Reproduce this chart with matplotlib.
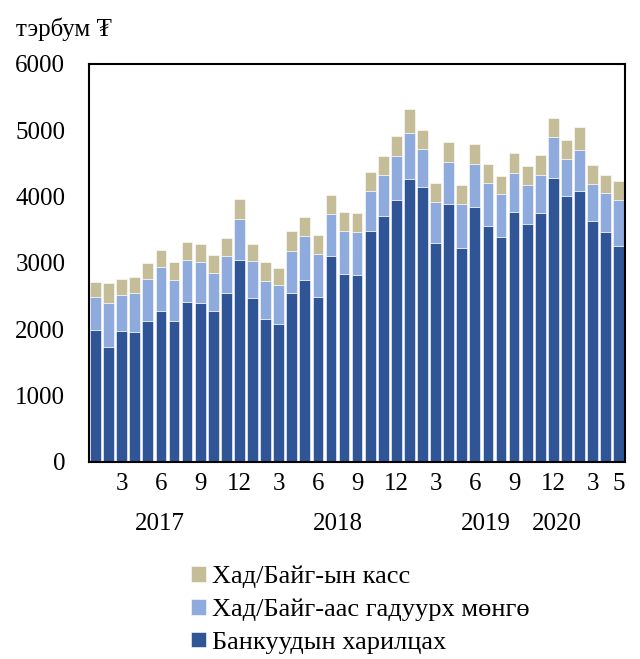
import numpy as np
import matplotlib
matplotlib.use("Agg")
import matplotlib.pyplot as plt

plt.rcParams['font.family'] = ['Liberation Serif', 'DejaVu Serif']

# monthly, Jan 2017 .. May 2020 (billion MNT)
banks = [1990, 1739, 1975, 1960, 2126, 2281, 2126, 2417, 2402, 2281, 2543, 3045,
         2477, 2161, 2085, 2553, 2749, 2492, 3111, 2839, 2824, 3478, 3714, 3945,
         4271, 4146, 3307, 3885, 3231, 3849, 3563, 3388, 3769, 3593, 3759, 4286,
         4010, 4090, 3633, 3473, 3252]
outside = [502, 663, 548, 593, 628, 659, 623, 633, 618, 564, 558, 614,
           553, 573, 579, 633, 663, 639, 633, 649, 649, 612, 618, 673,
           694, 578, 613, 643, 663, 648, 638, 652, 588, 588, 573, 609,
           563, 618, 563, 587, 703]
cash = [226, 292, 236, 241, 241, 251, 261, 262, 262, 271, 271, 301,
        252, 276, 261, 297, 277, 287, 281, 281, 276, 277, 277, 297,
        352, 277, 286, 292, 277, 293, 292, 272, 302, 282, 292, 287,
        277, 342, 282, 272, 277]

month_ticks = ['3', '6', '9', '12', '3', '6', '9', '12', '3', '6', '9', '12', '3', '5']
month_pos = [2, 5, 8, 11, 14, 17, 20, 23, 26, 29, 32, 35, 38, 40]
years = ['2017', '2018', '2019', '2020']
year_pos = [4.9, 18.5, 29.8, 35.3]

c_dark = '#2F5597'
c_light = '#8FAADC'
c_tan = '#C4BD97'

x = np.arange(len(banks))
banks = np.array(banks)
outside = np.array(outside)
cash = np.array(cash)

fig = plt.figure(figsize=(6.4, 6.59), dpi=100)
ax = fig.add_axes([0.139, 0.299, 0.838, 0.604])

w = 0.82
b1 = ax.bar(x, banks, w, color=c_dark, edgecolor='white', linewidth=0.4,
            label='Банкуудын харилцах')
b2 = ax.bar(x, outside, w, bottom=banks, color=c_light, edgecolor='white',
            linewidth=0.4, label='Хад/Байг-аас гадуурх мөнгө')
b3 = ax.bar(x, cash, w, bottom=banks + outside, color=c_tan, edgecolor='white',
            linewidth=0.4, label='Хад/Байг-ын касс')

ax.set_xlim(-0.5, len(banks) - 0.5)
ax.set_ylim(0, 6000)
ax.set_yticks(range(0, 6001, 1000))
ax.set_xticks(month_pos)
ax.set_xticklabels(month_ticks)
ax.tick_params(axis='both', length=0, labelsize=18, pad=8)
ax.tick_params(axis='y', pad=17)
for s in ax.spines.values():
    s.set_linewidth(1.5)
    s.set_color('black')

for yr, p in zip(years, year_pos):
    ax.text(p, -0.155, yr, transform=ax.get_xaxis_transform(), ha='center',
            va='center', fontsize=18)

fig.text(0.025, 0.955, 'тэрбум ₮', fontsize=18, ha='left', va='center')

fig.legend(handles=[b3, b2, b1], loc='upper left', bbox_to_anchor=(0.282, 0.158),
           frameon=False, fontsize=19, handlelength=0.55, handleheight=0.55,
           handletextpad=0.25, labelspacing=0.4, borderaxespad=0)

fig.savefig('out.png', dpi=100)
